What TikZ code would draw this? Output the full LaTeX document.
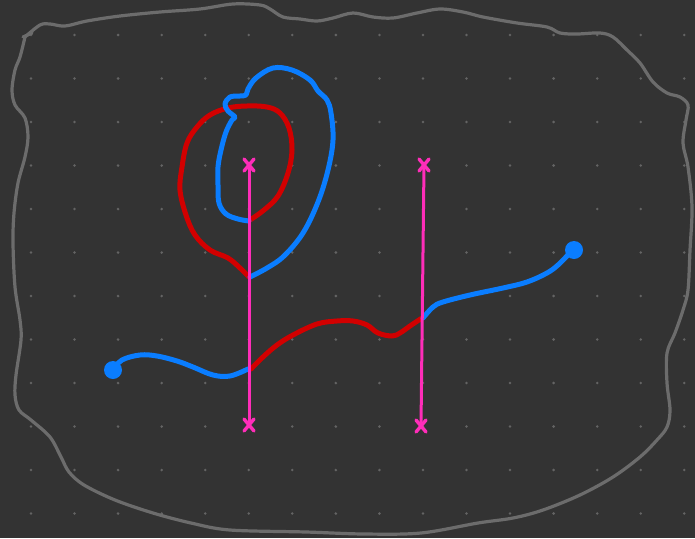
\documentclass[tikz,border=0pt]{standalone}
\usepackage{xcolor}
\usepackage{tikz}
\definecolor{bgcol}{RGB}{51,51,51}
\definecolor{dotcol}{RGB}{100,100,100}
\definecolor{rimcol}{RGB}{108,108,108}
\definecolor{bluecol}{RGB}{10,125,255}
\definecolor{redcol}{RGB}{210,0,0}
\definecolor{pinkcol}{RGB}{255,45,185}

\begin{document}
\begin{tikzpicture}[
    x=1pt, y=-1pt,
    rim/.style={draw=rimcol, line width=3.2pt, line cap=round, line join=round},
    bpen/.style={draw=bluecol, line width=5pt, line cap=round, line join=round},
    rpen/.style={draw=redcol, line width=5pt, line cap=round, line join=round},
    pinkln/.style={draw=pinkcol, line width=3pt, line cap=round},
    xmk/.style={draw=pinkcol, line width=3.4pt, line cap=round},
    blob/.style={circle, fill=bluecol, inner sep=0pt, minimum size=18pt},
  ]
  % ── Canvas and dot grid ──
  \fill[bgcol] (0,0) rectangle (695,538);
  \useasboundingbox (0,0) rectangle (695,538);
  \foreach \i in {0,...,15}
    \foreach \j in {0,...,11}
      \fill[dotcol] (31+\i*43.55, 35+\j*43.5) circle (1.4);

  % ── Outline ──
  \draw[rim] (23,37) -- (32,33);
  \draw[rim] plot[smooth, tension=0.55] coordinates {
    (25,37) (40,25) (50,24) (65,26) (87,21) (120,16) (160,12) (200,9)
    (233,4) (260,5) (270,9) (283,17) (300,19) (317,21) (333,18) (353,13)
    (373,17) (393,18) (417,13) (440,9) (463,12) (483,17) (517,23) (547,27)
    (560,33) (577,34) (600,33) (613,37) (627,50) (640,63) (653,82) (667,93)
    (680,97) (688,105) (686,120) (683,143) (688,167) (692,207) (690,250)
    (688,290) (683,310) (675,333) (667,353) (667,383) (670,410) (667,427)
    (657,440) (640,457) (613,477) (580,495) (543,510) (513,518) (478,523)
    (421,533) (364,534) (306,532) (230,530) (191,523) (153,513) (115,500)
    (84,485) (69,472) (61,457) (50,437) (31,420) (19,410) (15,395) (16,375)
    (21,340) (20,320) (15,287) (13,243) (14,213) (18,183) (25,157) (28,137)
    (25,118) (15,105) (12,90) (15,70) (20,57) (25,37)};

  % ── End points ──
  \node[blob] (start) at (113,370) {};
  \node[blob] (stop)  at (574,250) {};
  \coordinate (top1) at (249,165);
  \coordinate (bot1) at (249,425);
  \coordinate (top2) at (424,165);
  \coordinate (bot2) at (421,426);

  % ── Long path ──
  \draw[bpen] plot[smooth, tension=0.6] coordinates {
    (start.center) (122,360) (140,355) (157,356) (177,361) (193,367)
    (213,375) (230,376) (248,369)};
  \draw[rpen] plot[smooth, tension=0.6] coordinates {
    (251,369) (263,357) (277,345) (293,335) (317,324) (337,321) (353,321)
    (367,325) (378,333) (392,336) (400,333) (410,326) (422,318)};
  \draw[bpen] plot[smooth, tension=0.6] coordinates {
    (423,318) (433,307) (443,302) (470,295) (503,288) (527,282) (547,273)
    (558,265) (568,255) (stop.center)};

  % ── Loop ──
  \draw[rpen] plot[smooth, tension=0.6] coordinates {
    (249,277) (240,268) (228,258) (210,250) (195,235) (186,215) (180,190)
    (182,167) (187,143) (197,127) (210,115) (228,108) (247,106) (267,107)
    (280,113) (289,128) (292,150) (288,173) (278,196) (264,210) (250,220)};
  \draw[bpen] plot[smooth, tension=0.6] coordinates {
    (249,221) (238,219) (226,214) (219,203) (218,185) (218,167) (221,150)
    (226,132) (232,120) (235,117) (228,111) (225,104) (230,97) (240,96)
    (246,95) (248,89) (256,78) (273,68) (292,70) (310,80) (318,91) (327,100)
    (331,113) (333,140) (328,170) (318,202) (303,233) (284,256) (267,268)
    (250,277)};

  % ── Pink lines ──
  \draw[pinkln] (top1) -- (bot1);
  \draw[pinkln] (top2) -- (bot2);
  \foreach \p in {top1, bot1, top2, bot2}
    \draw[xmk] ([shift={(-5,-6)}]\p) -- ([shift={(5,6)}]\p)
               ([shift={(-5,6)}]\p) -- ([shift={(5,-6)}]\p);
\end{tikzpicture}
\end{document}
